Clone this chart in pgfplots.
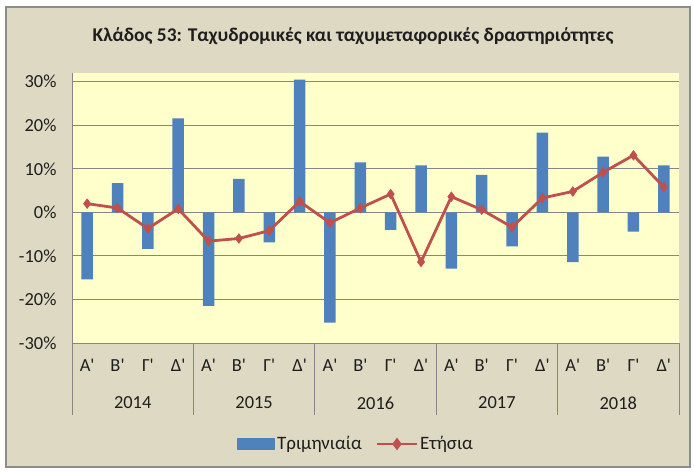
\documentclass[border=0pt]{standalone}
\usepackage{pgfplots}
\pgfplotsset{compat=1.18}
\usepackage{pgfplotstable}
\usepackage{fontspec}
\setmainfont{Carlito}[Ligatures=TeXOff]
\definecolor{bgc}{RGB}{221,217,195}
\definecolor{plotc}{RGB}{255,255,204}
\definecolor{gridc}{RGB}{134,134,134}
\definecolor{barc}{RGB}{79,129,189}
\definecolor{linec}{RGB}{192,80,77}
\definecolor{borderc}{RGB}{140,140,140}
\definecolor{txtc}{RGB}{30,30,30}

\pgfplotstableread{
x q y
0 -15.4 2.0
1 6.7 1.0
2 -8.4 -3.7
3 21.6 0.8
4 -21.5 -6.6
5 7.7 -6.0
6 -6.9 -4.2
7 30.5 2.5
8 -25.3 -2.4
9 11.5 1.0
10 -4.0 4.2
11 10.8 -11.4
12 -12.9 3.6
13 8.6 0.6
14 -7.8 -3.4
15 18.3 3.3
16 -11.4 4.8
17 12.8 9.2
18 -4.4 13.1
19 10.8 5.8
}\datatable

\begin{document}
\begin{tikzpicture}
\useasboundingbox (0bp,0bp) rectangle (694bp,-473bp);
\fill[white] (0bp,0bp) rectangle (694bp,-473bp);
\filldraw[fill=bgc, draw=borderc, line width=1.5bp] (6bp,-7bp) rectangle (690bp,-467bp);
\node[font=\bfseries\fontsize{19.5}{22}\selectfont, text=txtc] at (353bp,-36bp) {Κλάδος 53: Ταχυδρομικές και ταχυμεταφορικές δραστηριότητες};
\begin{axis}[
  at={(72bp,-343bp)}, anchor=south west,
  scale only axis, width=607bp, height=270bp,
  xmin=-0.5, xmax=19.5, ymin=-30, ymax=32,
  clip=false,
  axis background/.style={fill=plotc},
  axis x line*=bottom, axis y line*=left,
  axis line style={draw=gridc, line width=1bp, -},
  ytick={-30,-20,-10,0,10,20,30},
  yticklabels={-30\%,-20\%,-10\%,0\%,10\%,20\%,30\%},
  ymajorgrids, grid style={draw=gridc, line width=0.9bp},
  tick label style={font=\fontsize{18.5}{20}\selectfont, text=txtc},
  yticklabel style={xshift=-12bp},
  xtick={0,...,19},
  xticklabels={Α',Β',Γ',Δ',Α',Β',Γ',Δ',Α',Β',Γ',Δ',Α',Β',Γ',Δ',Α',Β',Γ',Δ'},
  xticklabel style={yshift=-13bp},
  major tick style={draw=none},
  legend columns=2,
  legend style={draw=none, fill=none, at={(0.468,-0.374)}, anchor=center,
    font=\fontsize{19}{21}\selectfont, text=txtc,
    /tikz/every even column/.append style={column sep=12bp}},
]
\addplot[ybar, bar width=11.5bp, fill=barc, draw=none,
  legend image code/.code={\fill[barc] (0bp,-6bp) rectangle (38bp,6bp);}]
  table[x=x,y=q]{\datatable};
\addlegendentry{Τριμηνιαία}
\addplot[linec, line width=2.8bp, mark=diamond*, mark size=4.5bp,
  mark options={fill=linec, line width=1bp},
  legend image code/.code={\draw[linec, line width=2.5bp] (0bp,0bp) -- (40bp,0bp); \fill[linec] (20bp,0bp) +(0bp,4bp) -- +(3bp,0bp) -- +(0bp,-4bp) -- +(-3bp,0bp) -- cycle;}]
  table[x=x,y=y]{\datatable};
\addlegendentry{Ετήσια}
\pgfplotsinvokeforeach{-0.5,3.5,7.5,11.5,15.5,19.5}{
  \draw[gridc, line width=1bp] (axis cs:#1,-30) -- ++(0bp,-72bp);
}
\node[font=\fontsize{18.5}{20}\selectfont, text=txtc] at ([yshift=-60bp]axis cs:1.5,-30) {2014};
\node[font=\fontsize{18.5}{20}\selectfont, text=txtc] at ([yshift=-60bp]axis cs:5.5,-30) {2015};
\node[font=\fontsize{18.5}{20}\selectfont, text=txtc] at ([yshift=-60bp]axis cs:9.5,-30) {2016};
\node[font=\fontsize{18.5}{20}\selectfont, text=txtc] at ([yshift=-60bp]axis cs:13.5,-30) {2017};
\node[font=\fontsize{18.5}{20}\selectfont, text=txtc] at ([yshift=-60bp]axis cs:17.5,-30) {2018};
\end{axis}
\end{tikzpicture}
\end{document}
